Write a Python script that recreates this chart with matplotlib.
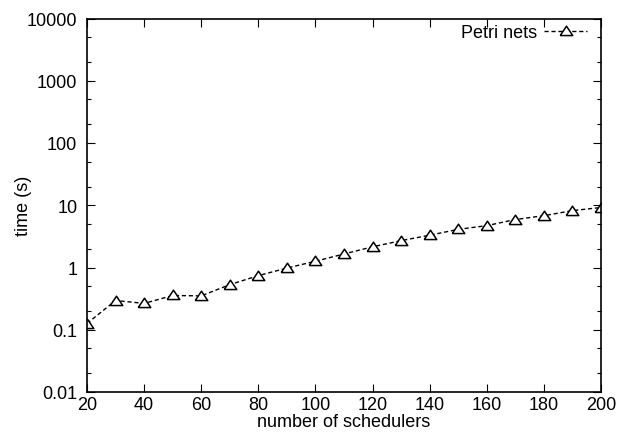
import matplotlib
matplotlib.use("Agg")
import matplotlib.pyplot as plt
from matplotlib.ticker import LogLocator, FixedLocator, NullFormatter

plt.rcParams['font.family'] = ['Liberation Sans', 'DejaVu Sans']
plt.rcParams['font.size'] = 13

# data
schedulers = [20, 30, 40, 50, 60, 70, 80, 90, 100, 110,
              120, 130, 140, 150, 160, 170, 180, 190, 200]
petri_time = [0.126, 0.295, 0.265, 0.355, 0.35, 0.53, 0.74, 0.98, 1.26, 1.65,
              2.15, 2.7, 3.3, 4.1, 4.7, 5.9, 6.8, 8.2, 9.2]
x_ticks = [20, 40, 60, 80, 100, 120, 140, 160, 180, 200]
y_ticks = [0.01, 0.1, 1, 10, 100, 1000, 10000]
y_labels = ['0.01', '0.1', '1', '10', '100', '1000', '10000']

fig = plt.figure(figsize=(6.32, 4.35), dpi=100)
ax = fig.add_axes([87 / 632, 42 / 435, (601 - 87) / 632, (393 - 19.5) / 435])

tri = [(-1, -0.65), (1, -0.65), (0, 0.85), (-1, -0.65)]
ax.plot(schedulers, petri_time, color='black', linestyle=(0, (3, 2)), linewidth=1.0,
        marker=tri, markersize=9, markerfacecolor='white',
        markeredgecolor='black', markeredgewidth=1.1, label='Petri nets')

ax.set_yscale('log')
ax.set_xlim(20, 200)
ax.set_ylim(0.01, 10000)
ax.xaxis.set_major_locator(FixedLocator(x_ticks))
ax.set_xticklabels([str(v) for v in x_ticks])
ax.yaxis.set_major_locator(FixedLocator(y_ticks))
ax.set_yticklabels(y_labels)
ax.yaxis.set_minor_locator(LogLocator(base=10, subs=[2, 5]))
ax.yaxis.set_minor_formatter(NullFormatter())

ax.tick_params(which='both', direction='in', top=True, right=True, width=0.8)
ax.tick_params(which='major', length=6)
ax.tick_params(which='minor', length=3)
ax.tick_params(axis='x', which='major', pad=3)
ax.tick_params(axis='y', which='major', pad=7)
for s in ax.spines.values():
    s.set_linewidth(1.2)

ax.set_xlabel('number of schedulers', labelpad=0)
ax.set_ylabel('time (s)')
ax.yaxis.set_label_coords(-0.107, 0.5)

ax.legend(loc='upper right', bbox_to_anchor=(1 - 12 / 514, 0.99),
          frameon=False, markerfirst=False,
          handlelength=2.4, handletextpad=0.4, borderaxespad=0, borderpad=0.1,
          fontsize=13)

fig.savefig('out.png', dpi=100)
